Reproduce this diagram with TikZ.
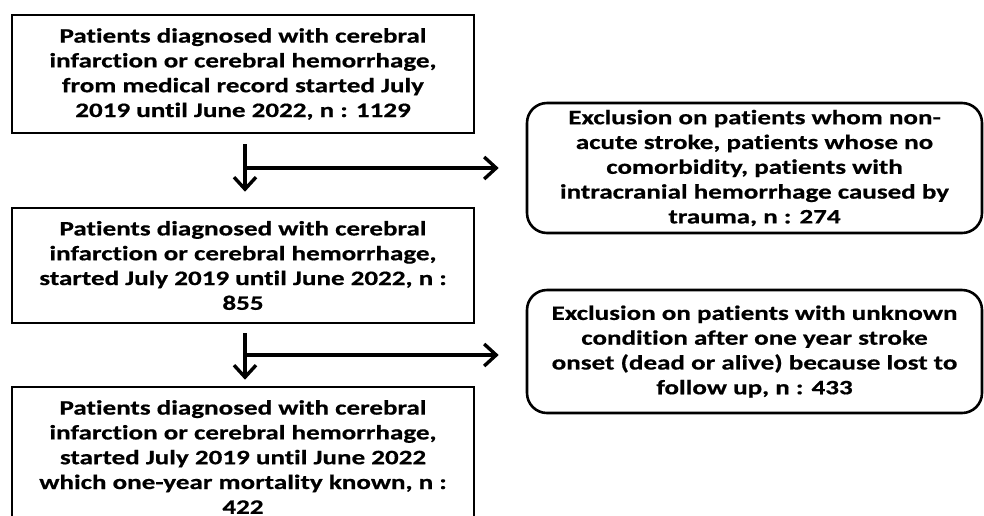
\documentclass[tikz,border=0pt]{standalone}
\usepackage{fontspec}
\setmainfont{Carlito}[FakeStretch=1.32, FakeBold=0.6, Ligatures=NoCommon]
\usetikzlibrary{arrows.meta, positioning}
\tikzset{
  stagebox/.style={draw, line width=2.6pt, align=center, inner sep=0pt,
    font=\bfseries\fontsize{20.5}{24.8}\selectfont, minimum width=462pt},
  exclbox/.style={stagebox, rounded corners=20pt, minimum width=455pt},
  flowarrow/.style={-{Straight Barb[length=12pt, width=22pt, line width=3.4pt]}, line width=3.4pt}
}

\begin{document}
\begin{tikzpicture}[x=1pt, y=-1pt]
    \useasboundingbox (0,0) rectangle (984,515);

    % Main stages
    \node[stagebox, minimum height=118pt] (recorded) at (243, 74)
      {Patients diagnosed with cerebral\\infarction or cerebral hemorrhage,\\from medical record started July\\2019 until June 2022, n : 1129};
    \node[stagebox, minimum height=115pt] (eligible) at (243, 265.5)
      {Patients diagnosed with cerebral\\infarction or cerebral hemorrhage,\\started July 2019 until June 2022, n :\\855};
    \node[stagebox, minimum height=140pt] (analysed) at (243, 457)
      {Patients diagnosed with cerebral\\infarction or cerebral hemorrhage,\\started July 2019 until June 2022\\which one-year mortality known, n :\\422};

    % Exclusions
    \node[exclbox, minimum height=130pt] (exclStroke) at (754.5, 168)
      {Exclusion on patients whom non-\\acute stroke, patients whose no\\comorbidity, patients with\\intracranial hemorrhage caused by\\trauma, n : 274};
    \node[exclbox, minimum height=123pt] (exclLost) at (754.5, 351.5)
      {Exclusion on patients with unknown\\condition after one year stroke\\onset (dead or alive) because lost to\\follow up, n : 433};

    % Arrows
    \coordinate (split1) at (245, 168);
    \coordinate (split2) at (245, 355);
    \draw[flowarrow, shorten <=10pt, shorten >=15pt] (recorded.south -| split1) -- (eligible.north -| split1);
    \draw[flowarrow, shorten >=27pt] (split1) -- (split1 -| exclStroke.west);
    \draw[flowarrow, shorten <=9pt, shorten >=6pt] (eligible.south -| split2) -- (analysed.north -| split2);
    \draw[flowarrow, shorten >=27pt] (split2) -- (split2 -| exclLost.west);
\end{tikzpicture}
\end{document}
